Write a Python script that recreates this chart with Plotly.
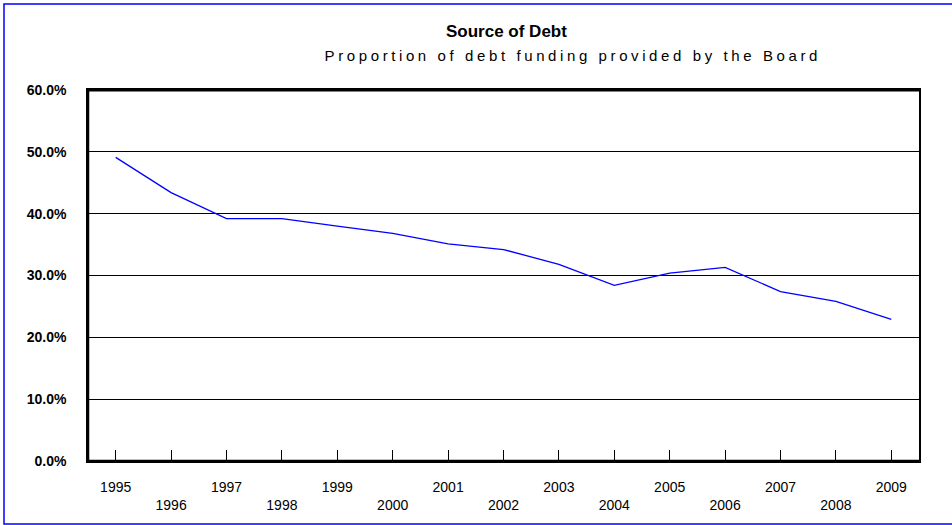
import plotly.graph_objects as go

years = [str(y) for y in range(1995, 2010)]
share = [49.1, 43.4, 39.2, 39.2, 38.0, 36.8, 35.1, 34.2, 31.8, 28.4, 30.4, 31.3, 27.4, 25.8, 22.9]
y_ticks = [0, 10, 20, 30, 40, 50, 60]
y_labels = [f"<b>{v:.1f}%</b>" for v in y_ticks]
x_labels = [y if i % 2 == 0 else "<br>" + y for i, y in enumerate(years)]

W, H = 952, 525
L, R, T, B = 88, 33, 90, 64
pw, ph = W - L - R, H - T - B

fig = go.Figure()
fig.add_trace(go.Scatter(x=years, y=share, mode="lines",
                         line=dict(color="#0000ff", width=1.3), showlegend=False))

fig.update_layout(
    width=W, height=H,
    margin=dict(l=L, r=R, t=T, b=B),
    paper_bgcolor="white", plot_bgcolor="white",
    font=dict(family="Liberation Sans, Arial", color="black"),
)
fig.update_xaxes(
    type="category", range=[-0.5, 14.5],
    tickmode="array", tickvals=years, ticktext=x_labels,
    ticks="inside", ticklen=11, tickwidth=1, tickcolor="black",
    showline=True, linecolor="black", linewidth=1.5, mirror=True,
    showgrid=False, tickfont=dict(size=14), ticklabelstandoff=12,
)
fig.update_yaxes(
    range=[0, 60], tickmode="array", tickvals=y_ticks, ticktext=y_labels,
    showline=True, linecolor="black", linewidth=1.5, mirror=True,
    showgrid=True, gridcolor="black", gridwidth=1, zeroline=False,
    tickfont=dict(size=14), ticks="",
    ticklabelstandoff=17,
)
# heavier frame edges as in the reference (top, left, bottom)
for x0, x1, y0, y1, w in [(0, 1, 1, 1, 3), (0, 0, 0, 1, 2.5), (0, 1, 0, 0, 2.7)]:
    fig.add_shape(type="line", xref="paper", yref="paper", x0=x0, x1=x1, y0=y0, y1=y1,
                  line=dict(color="black", width=w))
# outer blue frame
fig.add_shape(type="rect", xref="paper", yref="paper",
              x0=(4 - L) / pw, x1=(960 - L) / pw,
              y0=(H - B - 524) / ph, y1=(H - B - 4) / ph,
              line=dict(color="#0000ff", width=1.5), layer="below")

fig.add_annotation(text="<b>Source of Debt</b>", xref="paper", yref="paper",
                   x=(506 - L) / pw, y=(H - B - 32) / ph, showarrow=False,
                   font=dict(size=17), xanchor="center", yanchor="middle")
fig.add_annotation(text="Proportion of debt funding provided by the Board",
                   xref="paper", yref="paper",
                   x=(573 - L) / pw, y=(H - B - 55) / ph, showarrow=False,
                   font=dict(size=15), xanchor="center", yanchor="middle")

post = """
var gd = document.getElementById('{plot_id}');
function spaceOut(){
  var t = gd.querySelectorAll('.annotation-text');
  if (t.length > 1) { t[1].style.letterSpacing = '3.6px'; }
}
spaceOut();
gd.on('plotly_afterplot', spaceOut);
"""
fig.write_html("out.html", post_script=post)
